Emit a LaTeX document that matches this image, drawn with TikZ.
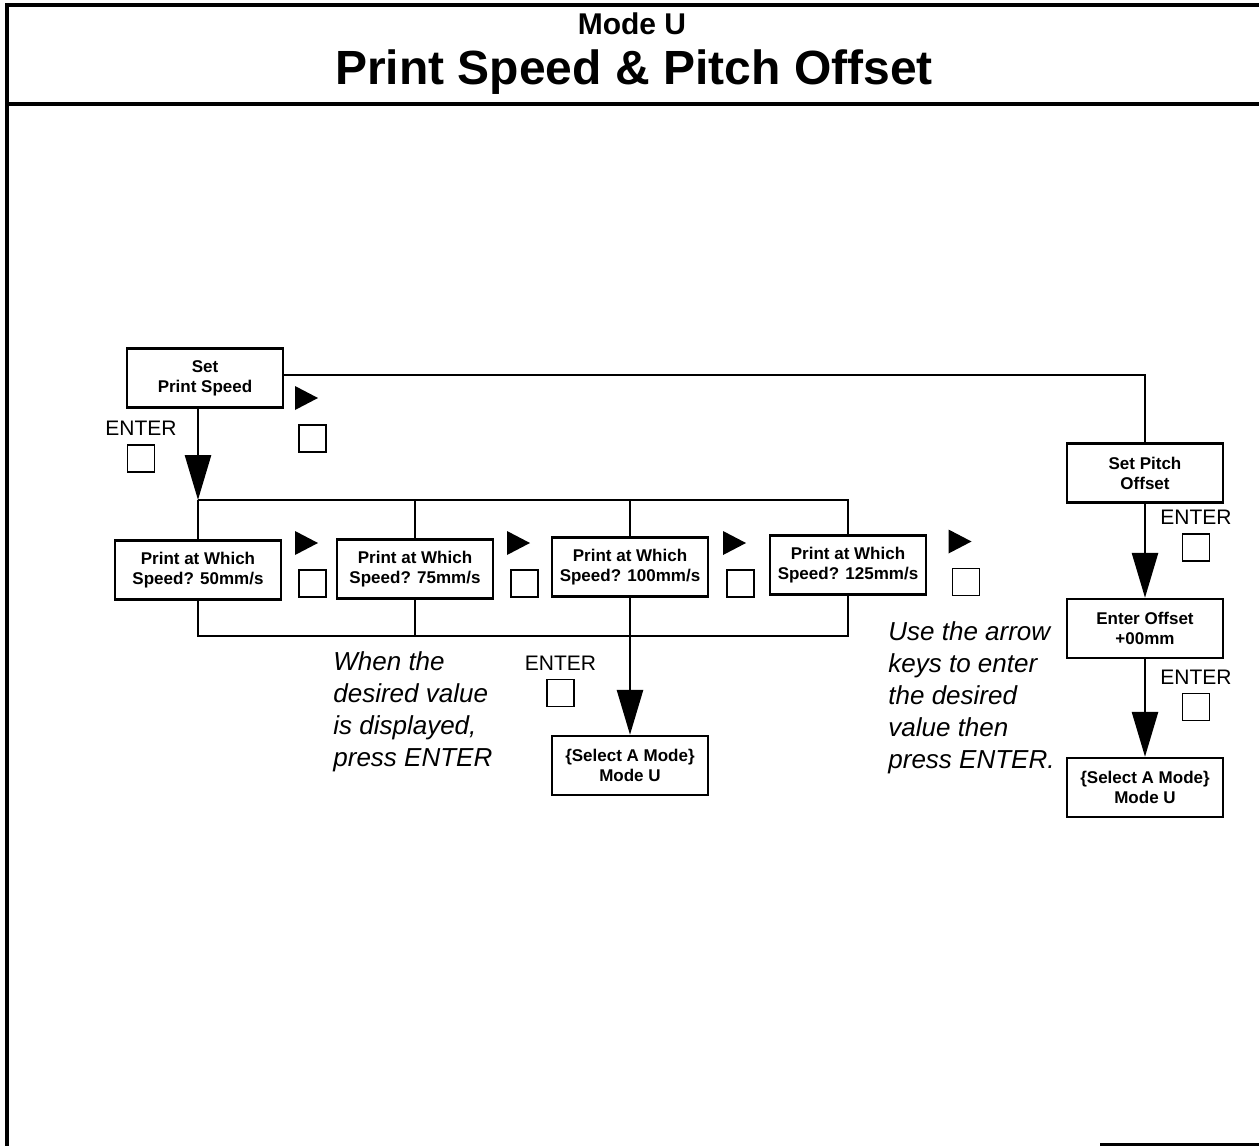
\documentclass[tikz,border=0pt]{standalone}
\usepackage{fontspec}
\setmainfont{Liberation Sans}
\usetikzlibrary{arrows.meta, positioning}

\begin{document}
\begin{tikzpicture}[x=0.5pt, y=-0.5pt,
      box/.style={draw, line width=1.2pt, minimum width=78pt, minimum height=29.5pt,
                  inner sep=2pt, align=center, font=\fontsize{8.5}{10}\selectfont\bfseries},
      keysq/.style={draw, line width=0.9pt, minimum size=13.5pt, inner sep=0pt},
      enter/.style={font=\fontsize{10.5}{12}\selectfont, inner sep=0pt},
      enterkey/.style={keysq, label={[enter, yshift=4pt]above:ENTER}},
      line/.style={line width=1.1pt},
      bigarrow/.style={line width=1.4pt, -{Triangle[length=22.5pt, width=13pt]}},
      note/.style={align=left, anchor=north west, inner sep=0pt,
                   font=\fontsize{13}{16}\selectfont\itshape},
      arrowkey/.pic={\fill (-17.5,-52.5) -- (5.5,-40.5) -- (-17.5,-28.5) -- cycle;
                     \node[keysq] {};}]

    \useasboundingbox (0,0) rectangle (1259,1146);

    % frame and header
    \draw[line width=2pt] (1259,5) -- (7,5) -- (7,1146);
    \draw[line width=2pt] (7,104) -- (1259,104);
    \draw[line width=1.5pt] (1100,1144) -- (1259,1144);
    \node[font=\fontsize{15}{18}\selectfont\bfseries] (mode) at (632,24) {Mode U};
    \node[font=\fontsize{24}{28}\selectfont\bfseries] (title) at (634,72) {Print Speed \& Pitch Offset};

    % print speed branch
    \node[box] (sps) at (205,378) {Set\\Print Speed};
    \coordinate (top) at (198,500);
    \coordinate (bot) at (198,636);
    \node[box, minimum width=83pt] (s1) at (198,570) {Print at Which\\Speed? 50mm/s};
    \foreach \n/\x/\y/\v in {2/415/569/75, 3/630/567/100, 4/848/565/125}
      \node[box] (s\n) at (\x,\y) {Print at Which\\Speed? \v mm/s};
    \node[box] (sel1) at (630,765.5) {\{Select A Mode\}\\Mode U};

    \draw[bigarrow] (sps.south -| top) -- (top);
    \draw[line] (top) -- (s1.north);
    \draw[line] (top) -| (s4.north);
    \draw[line] (top -| s2) -- (s2.north);
    \draw[line] (top -| s3) -- (s3.north);
    \draw[line] (s1.south) -- (bot) -| (s4.south);
    \draw[line] (s2.south) -- (s2.south |- bot);
    \draw[line] (s3.south) -- (s3.south |- bot);
    \draw[bigarrow] (s3.south |- bot) -- (sel1.north);

    % pitch offset branch
    \node[box] (spo) at (1145,473) {Set Pitch\\Offset};
    \node[box] (eoff) at (1145,628.5) {Enter Offset\\+00mm};
    \node[box] (sel2) at (1145,787.5) {\{Select A Mode\}\\Mode U};

    \draw[line] (sps.east |- 0,375) -| (spo.north);
    \draw[bigarrow] (spo) -- (eoff);
    \draw[bigarrow] (eoff) -- (sel2);

    % keys
    \pic at (312.5,438.5) {arrowkey};
    \foreach \x/\y in {312.5/583.5, 524.5/583.5, 740.5/583.5, 966/582}
      \pic at (\x,\y) {arrowkey};
    \node[enterkey] (k1) at (141,458.5) {};
    \node[enterkey] (k2) at (560.5,693) {};
    \node[enterkey] (k3) at (1196,547.5) {};
    \node[enterkey] (k4) at (1196,707) {};

    % notes
    \node[note] (n1) at (333,651) {When the\\desired value\\is displayed,\\press ENTER};
    \node[note] (n2) at (888,621) {Use the arrow\\keys to enter\\the desired\\value then\\press ENTER.};
\end{tikzpicture}
\end{document}
